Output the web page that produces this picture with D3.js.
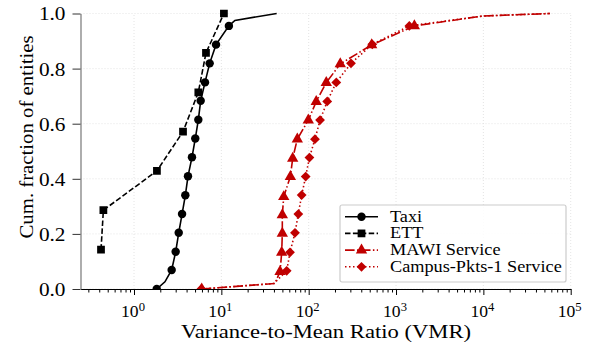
<!DOCTYPE html>
<meta charset="utf-8">
<style>
body { margin: 0; background: #fff; }
svg text { font-family: "Liberation Serif", serif; fill: #000; }
.grid line { stroke: #ddd; stroke-width: 0.8; stroke-dasharray: 1,2; }
</style>
<svg width="596" height="344"></svg>
<script src="https://cdn.jsdelivr.net/npm/d3@7"></script>
<script>

// values
var taxiVmr  = [1.82, 2.26, 2.70, 3.0, 3.25, 3.55, 3.87, 4.15, 4.61, 5.03, 5.45, 5.80, 6.50, 7.35, 8.69, 12.2, 14.3, 43];
var taxiFrac = [0, 0.026, 0.069, 0.135, 0.204, 0.272, 0.34, 0.409, 0.478, 0.546, 0.614, 0.683, 0.750, 0.819, 0.887, 0.955, 0.975, 1.0];
var taxiMark = [1, 0, 1, 1, 1, 1, 1, 1, 1, 1, 1, 1, 1, 1, 1, 1, 0, 0];

var ettVmr  = [0.419, 0.446, 1.83, 3.64, 5.45, 6.67, 10.7];
var ettFrac = [0.143, 0.286, 0.429, 0.571, 0.714, 0.857, 1.0];
var ettMark = [1, 1, 1, 1, 1, 1, 1];

var mawiVmr  = [5.96, 41, 47, 49.1, 49.9, 49.9, 51.8, 61.7, 65.6, 74.1, 99, 122, 159, 230, 526, 1622, 9900, 57900];
var mawiFrac = [0, 0.02, 0.063, 0.133, 0.202, 0.269, 0.335, 0.408, 0.474, 0.544, 0.613, 0.68, 0.749, 0.817, 0.886, 0.955, 0.991, 1.0];
var mawiMark = [1, 0, 1, 1, 1, 1, 1, 1, 1, 1, 1, 1, 1, 1, 1, 1, 0, 0];

var campusVmr  = [5.9, 40, 56, 61.1, 69.7, 76.1, 83.1, 92.4, 102, 118, 135, 163, 207, 305, 535, 1420, 9900, 57900];
var campusFrac = [0, 0.02, 0.066, 0.133, 0.204, 0.272, 0.341, 0.408, 0.477, 0.544, 0.613, 0.681, 0.750, 0.819, 0.888, 0.955, 0.991, 1.0];
var campusMark = [1, 0, 1, 1, 1, 1, 1, 1, 1, 1, 1, 1, 1, 1, 1, 1, 0, 0];

var seriesNames = ["Taxi", "ETT", "MAWI Service", "Campus-Pkts-1 Service"];
var yTicks = [0, 0.2, 0.4, 0.6, 0.8, 1.0];
var xTicks = [1, 10, 100, 1000, 10000, 100000];

var svg = d3.select("svg");

var x = d3.scaleLog().domain([0.244, 1e5]).range([80.5, 570.7]);
var y = d3.scaleLinear().domain([0, 1]).range([289, 13.5]);

function zip(xs, ys, ms) {
  return xs.map(function(v, i) { return {x: v, y: ys[i], m: ms[i]}; });
}

// widen the serif glyphs a bit (the original font is a wide serif)
function stretch(sel, k) {
  sel.each(function() {
    var w = this.getComputedTextLength();
    d3.select(this).attr("textLength", w * k).attr("lengthAdjust", "spacingAndGlyphs");
  });
}

var red = "#c00000";
var series = [
  {name: seriesNames[0], pts: zip(taxiVmr, taxiFrac, taxiMark), color: "#000", dash: null, marker: d3.symbolCircle, size: 56, rot: 0},
  {name: seriesNames[1], pts: zip(ettVmr, ettFrac, ettMark), color: "#000", dash: "5.5,2.4", marker: d3.symbolSquare, size: 60, rot: 0},
  {name: seriesNames[2], pts: zip(mawiVmr, mawiFrac, mawiMark), color: red, dash: "9.6,2.4,1.5,2.4", marker: d3.symbolTriangle, size: 56, rot: 0},
  {name: seriesNames[3], pts: zip(campusVmr, campusFrac, campusMark), color: red, dash: "1.5,2.5", marker: d3.symbolSquare, size: 48, rot: 45}
];

svg.append("defs").append("clipPath").attr("id", "clip")
  .append("rect").attr("x", 80.5).attr("y", 0).attr("width", 500).attr("height", 289);

// grid
var grid = svg.append("g").attr("class", "grid");
grid.selectAll(".gx").data(xTicks).enter().append("line")
  .attr("x1", function(d) { return x(d); }).attr("x2", function(d) { return x(d); })
  .attr("y1", y(0)).attr("y2", y(1));
grid.selectAll(".gy").data(yTicks).enter().append("line")
  .attr("x1", x.range()[0]).attr("x2", x.range()[1])
  .attr("y1", function(d) { return y(d); }).attr("y2", function(d) { return y(d); });

// lines + markers
var line = d3.line().x(function(d) { return x(d.x); }).y(function(d) { return y(d.y); });
var plot = svg.append("g").attr("clip-path", "url(#clip)");
series.forEach(function(s) {
  plot.append("path").datum(s.pts)
    .attr("d", line)
    .attr("fill", "none")
    .attr("stroke", s.color)
    .attr("stroke-width", 1.6)
    .attr("stroke-dasharray", s.dash);
  plot.selectAll(null).data(s.pts.filter(function(d) { return d.m; })).enter().append("path")
    .attr("d", d3.symbol().type(s.marker).size(s.size))
    .attr("transform", function(d) { return "translate(" + x(d.x) + "," + y(d.y) + ") rotate(" + s.rot + ")"; })
    .attr("fill", s.color);
});

// x axis
var xAxis = d3.axisBottom(x).tickSizeOuter(0).tickFormat("");
var gx = svg.append("g").attr("transform", "translate(0," + y(0) + ")").call(xAxis);
gx.select(".domain").attr("stroke", "#000").attr("stroke-width", 1);
gx.selectAll(".tick line").attr("stroke", "#000")
  .attr("y2", function(d) { return xTicks.indexOf(d) >= 0 ? 6 : 3.5; });
var xl = svg.append("g").selectAll("text").data(xTicks).enter().append("text")
  .attr("x", function(d) { return x(d) - 1; })
  .attr("y", 317)
  .attr("text-anchor", "middle")
  .attr("font-size", 16);
xl.append("tspan").text("10");
xl.append("tspan").attr("font-size", 11.5).attr("dy", -6.5)
  .text(function(d) { return Math.round(Math.log10(d)); });
stretch(xl, 1.1);

// y axis
var yAxis = d3.axisLeft(y).tickValues(yTicks).tickSize(8).tickSizeOuter(0)
  .tickFormat(d3.format(".1f"));
var gy = svg.append("g").attr("transform", "translate(" + x.range()[0] + ",0)").call(yAxis);
gy.attr("font-family", null);
gy.select(".domain").attr("stroke", "#777").attr("stroke-width", 1.2);
gy.selectAll(".tick line").attr("stroke", "#333");
gy.selectAll(".tick text").attr("font-size", 19).attr("x", -15).attr("dy", "0.34em");
stretch(gy.selectAll(".tick text"), 1.12);

// axis labels
svg.append("text").attr("x", 326).attr("y", 338).attr("text-anchor", "middle")
  .attr("font-size", 18.5).text("Variance-to-Mean Ratio (VMR)")
  .attr("textLength", 290).attr("lengthAdjust", "spacingAndGlyphs");
svg.append("text").attr("transform", "translate(32.5,137) rotate(-90)").attr("text-anchor", "middle")
  .attr("font-size", 18.5).text("Cum. fraction of entities")
  .attr("textLength", 203).attr("lengthAdjust", "spacingAndGlyphs");

// legend
var lg = svg.append("g").attr("transform", "translate(340,205)");
lg.append("rect").attr("width", 226).attr("height", 77).attr("rx", 2)
  .attr("fill", "#fff").attr("fill-opacity", 0.85).attr("stroke", "#ccc").attr("stroke-width", 1.2);
series.forEach(function(s, i) {
  var row = lg.append("g").attr("transform", "translate(0," + (11.7 + i * 16.7) + ")");
  row.append("line").attr("x1", 5).attr("x2", 38)
    .attr("stroke", s.color).attr("stroke-width", 1.6).attr("stroke-dasharray", s.dash);
  row.append("path").attr("d", d3.symbol().type(s.marker).size(s.size))
    .attr("transform", "translate(21.5,0) rotate(" + s.rot + ")").attr("fill", s.color);
  var t = row.append("text").attr("x", 50).attr("y", 5).attr("font-size", 16).text(s.name);
  stretch(t, 1.14);
});

</script>
